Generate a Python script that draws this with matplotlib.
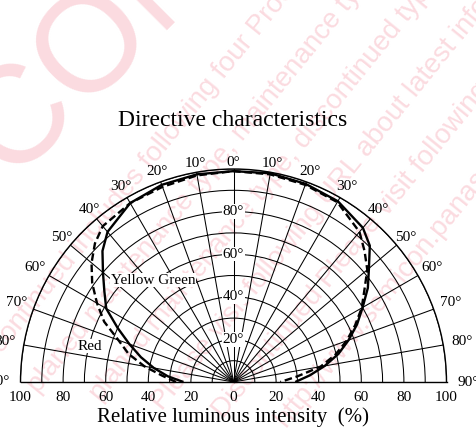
import numpy as np
import matplotlib
matplotlib.use("Agg")
import matplotlib.pyplot as plt

# Angle from the optical axis (deg): negative = left half, positive = right half
angles_deg = [-90, -85, -80, -75, -70, -65, -60, -55, -50, -45, -40, -30, -20, -10,
              0, 10, 20, 30, 40, 45, 50, 55, 60, 65, 70, 75, 80, 85, 90]
# Relative luminous intensity (%)
yellow_green = [23.5, 31, 38, 45, 52, 60, 69, 74, 80, 87, 92, 97, 98.5, 99,
                99, 99.5, 99, 98, 94.5, 90.5, 83, 77, 70, 64, 57.5, 51, 43.5, 36, 29]
red = [27, 33.5, 42.5, 51, 57.5, 67, 74, 81, 87, 92, 95.5, 97, 97.5, 98.5,
       99, 99, 98.5, 97.5, 92, 87, 82, 75, 69.5, 63, 56.5, 49.5, 41.5, 30, 22]

angle_ticks = list(range(0, 91, 10))
radius_ticks = [20, 40, 60, 80]
baseline_ticks = [100, 80, 60, 40, 20, 0, 20, 40, 60, 80, 100]

title = "Directive characteristics"
xlabel = "Relative luminous intensity  (%)"

serif = ["Liberation Serif", "DejaVu Serif"]
W, H = 476, 428
fig = plt.figure(figsize=(W / 100, H / 100), dpi=100)

# Pale background watermark
wm_color = "#fbdbe0"
fig.text(10 / W, 1 - 180 / H, "CON", fontsize=100, color=wm_color, rotation=45,
         family="Liberation Sans", ha="left", va="baseline", zorder=-5,
         rotation_mode="anchor")
wm_lines = [
    "Discontinued includes following four Product lifecycle stage.",
    "planed maintenance type, maintenance type, planed discontinued type",
    "planed maintenance type, discontinued type",
    "Please visit following URL about latest information.",
    "Discontinued Please visit following URL about latest",
    "http://www.semicon.panasonic.co.jp/en",
]
for i, line in enumerate(wm_lines):
    fig.text(-0.05 + i * 0.13, 0.10 - i * 0.02, line, fontsize=20, color=wm_color,
             rotation=51, rotation_mode="anchor", family="Liberation Sans",
             ha="left", va="baseline", zorder=-5)

# Half-disc polar axes: the wedge is centred inside a square box
cx, cy, R = 233.5, 382.0, 213.0
box_bottom = H - (cy - R / 2) - R
ax = fig.add_axes([(cx - R) / W, box_bottom / H, 2 * R / W, 2 * R / H],
                  projection="polar")
ax.patch.set_alpha(0)
ax.set_theta_zero_location("N")
ax.set_theta_direction(-1)
ax.set_thetamin(-90)
ax.set_thetamax(90)
ax.set_ylim(0, 100)
ax.set_thetagrids(range(-90, 91, 10), labels=[""] * 19)
ax.set_rgrids(range(10, 101, 10), labels=[""] * 10)
ax.grid(True, color="black", linewidth=0.75)
for sp in ax.spines.values():
    sp.set_color("black")
    sp.set_linewidth(1.0)
ax.tick_params(length=0)

th = np.deg2rad(angles_deg)
ax.plot(th, yellow_green, color="black", linewidth=1.7, solid_capstyle="butt")
ax.plot(th, red, color="black", linewidth=1.7, linestyle=(0, (3.2, 1.6)))

# Angle labels round the outer arc
label_r = [103, 104, 105, 106, 105.5, 105.5, 107.5, 108.5, 109, 110]
for a, r in zip(angle_ticks, label_r):
    for s in ([1] if a == 0 else [-1, 1]):
        ax.text(np.deg2rad(s * a), r, f"{a}°", ha="center", va="center",
                fontsize=11, family=serif, clip_on=False)

# Intensity labels on the optical axis
for r in radius_ticks:
    ax.text(0, r, f"{r}°", ha="center", va="center", fontsize=11, family=serif,
            bbox=dict(facecolor="white", edgecolor="none", pad=0.6), zorder=5)

# Baseline intensity scale
for i, v in enumerate(baseline_ticks):
    theta = np.deg2rad(-90 if i < 5 else 90)
    ax.annotate(f"{v}", xy=(theta, v), xytext=(0, -11), textcoords="offset points",
                ha="center", va="center", fontsize=11, family=serif,
                annotation_clip=False)

ax.text(np.deg2rad(-38.3), 61, "Yellow Green", ha="center", va="center",
        fontsize=11, family=serif,
        bbox=dict(facecolor="white", edgecolor="none", pad=0.4), zorder=5)
ax.text(np.deg2rad(-76), 69.5, "Red", ha="center", va="center",
        fontsize=11, family=serif,
        bbox=dict(facecolor="white", edgecolor="none", pad=0.4), zorder=5)

fig.text(233 / W, 1 - 120 / H, title, ha="center", va="center",
         fontsize=17, family=serif)
fig.text(233 / W, 1 - 417 / H, xlabel, ha="center", va="center",
         fontsize=15, family=serif)

fig.savefig("out.png", dpi=100)
